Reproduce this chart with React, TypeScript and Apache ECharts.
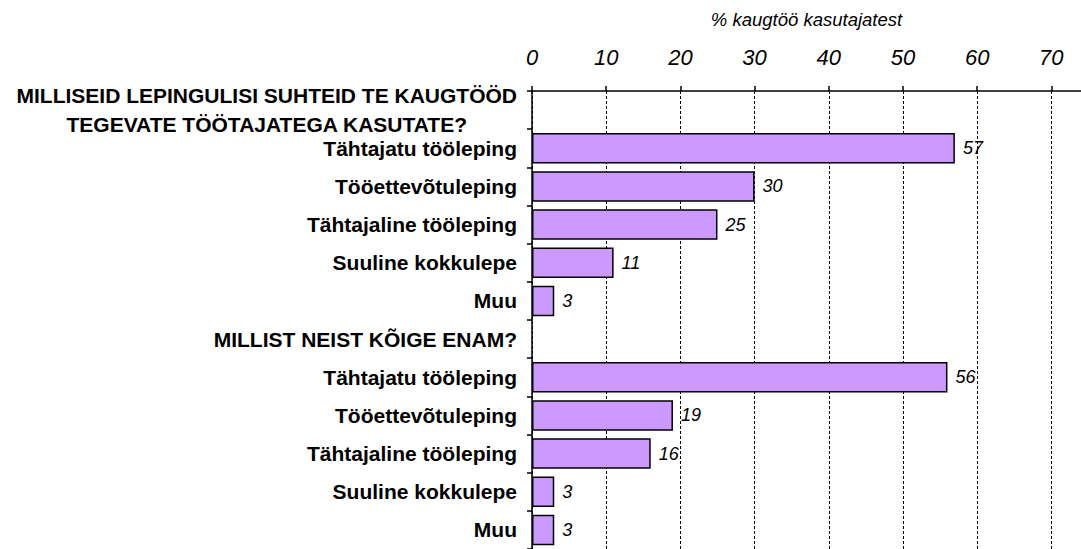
import React, { useEffect, useRef } from "react";
import * as echarts from "echarts";

const categories: string[] = [
  "MILLISEID LEPINGULISI SUHTEID TE KAUGTÖÖD\nTEGEVATE TÖÖTAJATEGA KASUTATE?",
  "Tähtajatu tööleping",
  "Tööettevõtuleping",
  "Tähtajaline tööleping",
  "Suuline kokkulepe",
  "Muu",
  "MILLIST NEIST KÕIGE ENAM?",
  "Tähtajatu tööleping",
  "Tööettevõtuleping",
  "Tähtajaline tööleping",
  "Suuline kokkulepe",
  "Muu",
];

const headerRows: number[] = [0, 6];

const values: (number | string)[] = ["-", 57, 30, 25, 11, 3, "-", 56, 19, 16, 3, 3];

const axisTitle = "% kaugtöö kasutajatest";
const xMin = 0;
const xMax = 74;
const xInterval = 10;

export default function App() {
  const ref = useRef<HTMLDivElement>(null);
  useEffect(() => {
    if (!ref.current) return;
    const chart = echarts.init(ref.current, null, { renderer: "svg" });
    const font = "'Liberation Sans', Arial, sans-serif";
    chart.setOption({
      animation: false,
      grid: { left: 532, right: 0, top: 91, bottom: 0, containLabel: false },
      xAxis: {
        type: "value",
        position: "top",
        min: xMin,
        max: xMax,
        interval: xInterval,
        name: axisTitle,
        nameLocation: "middle",
        nameGap: 62,
        nameTextStyle: {
          fontFamily: font,
          fontStyle: "italic",
          fontSize: 18.5,
          color: "#000",
        },
        axisLine: { show: true, lineStyle: { color: "#000", width: 1.5 } },
        axisTick: { show: true, inside: false, length: 5, lineStyle: { color: "#000", width: 1.5 } },
        axisLabel: {
          margin: 23,
          showMaxLabel: false,
          fontFamily: font,
          fontStyle: "italic",
          fontSize: 22,
          color: "#000",
        },
        splitLine: {
          show: true,
          showMaxLine: false,
          lineStyle: { color: "#000", width: 1, type: [3, 2] },
        },
      },
      yAxis: {
        type: "category",
        inverse: true,
        data: categories,
        axisLine: { show: true, lineStyle: { color: "#000", width: 1.5 } },
        axisTick: { show: true, length: 5, lineStyle: { color: "#000", width: 1.5 } },
        axisLabel: {
          margin: 15,
          fontFamily: font,
          fontWeight: "bold",
          fontSize: 21,
          color: "#000",
          formatter: (v: string, i: number) =>
            headerRows.indexOf(i) >= 0
              ? v
                  .split("\n")
                  .map((s) => `{h|${s}}`)
                  .join("\n")
              : v,
          rich: {
            h: {
              fontFamily: font,
              fontWeight: "bold",
              fontSize: 21,
              color: "#000",
              align: "center",
              lineHeight: 29,
            },
          },
        },
        splitLine: { show: false },
      },
      series: [
        {
          type: "bar",
          data: values,
          barCategoryGap: "20%",
          itemStyle: { color: "#CC99FF", borderColor: "#000", borderWidth: 1.5 },
          label: {
            show: true,
            position: "right",
            distance: 8,
            fontFamily: font,
            fontStyle: "italic",
            fontSize: 18,
            color: "#000",
          },
        },
      ],
    });
    return () => chart.dispose();
  }, []);
  return (
    <div
      ref={ref}
      style={{ position: "absolute", left: 0, top: 0, width: 1081, height: 549, background: "#fff" }}
    />
  );
}
